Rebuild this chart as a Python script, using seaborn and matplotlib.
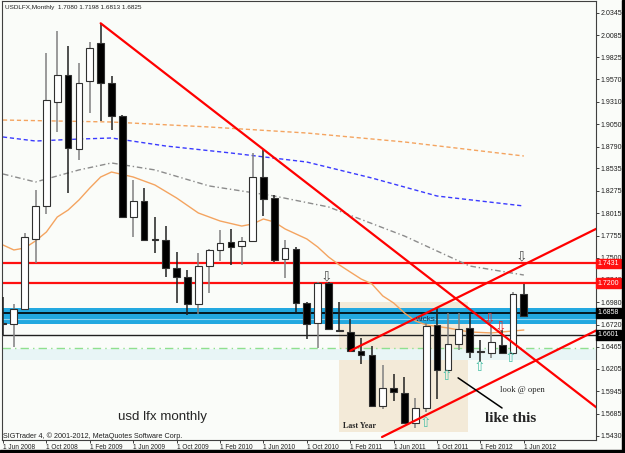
import numpy as np
import pandas as pd
import matplotlib
matplotlib.use('Agg')
import matplotlib.pyplot as plt
import seaborn as sns
from matplotlib.patches import Rectangle

# Monthly USDLFX bars, Jun 2008 .. Jun 2012 (bar index 0..48)
months = pd.date_range('2008-06-01', '2012-06-01', freq='MS')
opens = [1.6745, 1.6728, 1.6902, 1.7712, 1.8099, 1.9304, 1.9618, 1.8758, 1.9555, 1.9990,
         1.9525, 1.9145, 1.7968, 1.8154, 1.7715, 1.7704, 1.7382, 1.7277, 1.6957, 1.7402,
         1.7588, 1.7680, 1.7634, 1.7692, 1.8440, 1.8188, 1.7480, 1.7599, 1.6968, 1.6736,
         1.7201, 1.6658, 1.6638, 1.6417, 1.6367, 1.5775, 1.5981, 1.5930, 1.5581, 1.5748,
         1.6716, 1.6193, 1.6495, 1.6678, 1.6412, 1.6394, 1.6484, 1.6394, 1.7080]
highs = [1.7041, 1.6960, 1.7789, 1.8285, 1.9880, 2.0136, 1.9958, 1.9764, 2.0008, 2.0222,
         1.9610, 1.9160, 1.8401, 1.8305, 1.7975, 1.7866, 1.7568, 1.7355, 1.7556, 1.7595,
         1.7820, 1.7828, 1.7742, 1.8718, 1.8750, 1.8223, 1.7704, 1.7619, 1.6987, 1.7215,
         1.7215, 1.6987, 1.6790, 1.6562, 1.6472, 1.6251, 1.6147, 1.6116, 1.5864, 1.6736,
         1.6910, 1.6852, 1.6852, 1.6844, 1.6542, 1.6716, 1.6658, 1.7103, 1.7198]
lows = [1.6600, 1.6464, 1.6895, 1.7433, 1.8006, 1.8962, 1.8246, 1.8633, 1.9183, 1.9090,
        1.8982, 1.7956, 1.7742, 1.7700, 1.7556, 1.7277, 1.6968, 1.6832, 1.6844, 1.7092,
        1.7463, 1.7413, 1.7413, 1.7685, 1.7983, 1.7452, 1.7259, 1.6871, 1.6553, 1.6449,
        1.6655, 1.6635, 1.6410, 1.6263, 1.5767, 1.5737, 1.5837, 1.5565, 1.5519, 1.5705,
        1.5853, 1.6185, 1.6426, 1.6336, 1.6290, 1.6336, 1.6379, 1.6385, 1.6813]
closes = [1.6725, 1.6899, 1.7735, 1.8099, 1.9331, 1.9618, 1.8769, 1.9532, 1.9931, 1.9532,
          1.9145, 1.7968, 1.8161, 1.7704, 1.7705, 1.7382, 1.7270, 1.6957, 1.7402, 1.7588,
          1.7665, 1.7626, 1.7689, 1.8440, 1.8184, 1.7471, 1.7607, 1.6968, 1.6728, 1.7201,
          1.6666, 1.6646, 1.6417, 1.6367, 1.5775, 1.5981, 1.5941, 1.5574, 1.5748, 1.6708,
          1.6193, 1.6492, 1.6666, 1.6406, 1.6398, 1.6522, 1.6394, 1.7073, 1.6825]

# moving averages (bar index, value)
ma_long_idx = [0, 10, 19, 28, 37, 48]
ma_long = [1.9098, 1.9075, 1.9017, 1.8947, 1.8843, 1.8680]
ma_blue_idx = [0, 3, 7, 10, 15, 21, 28, 34, 40, 48]
ma_blue = [1.8901, 1.8854, 1.8877, 1.8889, 1.8796, 1.8715, 1.8610, 1.8424, 1.8215, 1.8099]
ma_gray_idx = [0, 3, 7, 10, 14, 19, 25, 30, 37, 43, 48]
ma_gray = [1.8471, 1.8378, 1.8518, 1.8599, 1.8518, 1.8332, 1.8215, 1.8088, 1.7750, 1.7402, 1.7297]
ma_fast_idx = [0, 1, 2, 3, 4, 5, 6, 7, 8, 9, 10, 12, 14, 16, 18, 20, 22, 23, 24, 25, 26, 27,
               28, 29, 30, 31, 32, 33, 34, 35, 36, 37, 38, 39, 41, 43, 45, 47, 48]
ma_fast = [1.7646, 1.7588, 1.7611, 1.7693, 1.7797, 1.7971, 1.8052, 1.8169, 1.8308, 1.8436,
           1.8494, 1.8436, 1.8343, 1.8192, 1.8018, 1.7925, 1.7866, 1.7890, 1.7948, 1.7913,
           1.7832, 1.7774, 1.7716, 1.7623, 1.7507, 1.7414, 1.7332, 1.7251, 1.7193, 1.7054,
           1.6972, 1.6856, 1.6763, 1.6717, 1.6682, 1.6635, 1.6624, 1.6647, 1.6658]

# horizontal levels
red_levels = [1.7431, 1.7200]
band_low, band_high = 1.6728, 1.6914
band_line = 1.6858
black_level = 1.6601
green_level = 1.6445

# trend lines: start bar, start price, end bar, end price
trend_lines = [(9, 2.0222, 56, 1.5630),
               (32, 1.6417, 56, 1.7917),
               (34.93, 1.5415, 56, 1.6736)]

ytick_vals = [2.0345, 2.0085, 1.9825, 1.9570, 1.9310, 1.9050, 1.8790, 1.8535, 1.8275, 1.8015,
              1.7755, 1.7500, 1.7240, 1.6980, 1.6720, 1.6465, 1.6205, 1.5945, 1.5685, 1.5430]

sns.set_style("white")
plt.rcParams['font.family'] = ['Liberation Sans', 'DejaVu Sans']

bg = '#fafcf9'
fig = plt.figure(figsize=(6.25, 4.53), dpi=100, facecolor=bg)
ax = fig.add_axes([2 / 625, 13 / 453, 594 / 625, 439 / 453], facecolor=bg)

idx = np.arange(len(months))
df = pd.DataFrame({'i': idx, 'o': opens, 'h': highs, 'l': lows, 'c': closes})

# "last year" box
ax.add_patch(Rectangle((30.97, 1.5473), 11.9, 0.1511, facecolor='#f3ead8', edgecolor='none', zorder=0))

# levels
ax.axhspan(1.6310, 1.6437, color='#e8f5f6', zorder=0.5, lw=0)
ax.axhspan(band_low, band_high, color='#22a8e0', zorder=1, lw=0)
ax.axhline(band_line, color='black', lw=1.2, zorder=1.2)
ax.axhline(1.6782, color='#8fd6f2', lw=0.8, zorder=1.2)
for lv in red_levels:
    ax.axhline(lv, color='#ff1010', lw=1.6, zorder=1.5)
ax.axhline(black_level, color='#202020', lw=1.0, zorder=1.5)
ax.axhline(green_level, color='#8fe08f', lw=1.0, ls=(0, (6, 3, 1, 3)), zorder=1.5)

# moving averages
sns.lineplot(x=ma_long_idx, y=ma_long, ax=ax, color='#f4a460', lw=1, ls=(0, (3, 2)), zorder=2)
sns.lineplot(x=ma_blue_idx, y=ma_blue, ax=ax, color='#3a3aff', lw=1, ls=(0, (3, 2)), zorder=2)
sns.lineplot(x=ma_gray_idx, y=ma_gray, ax=ax, color='#8c8c8c', lw=1, ls=(0, (4, 2, 1, 2)), zorder=2)
sns.lineplot(x=ma_fast_idx, y=ma_fast, ax=ax, color='#f4a460', lw=1, zorder=2)

# candles
w = 0.62
for _, r in df.iterrows():
    isup = r['c'] >= r['o']
    ax.vlines(r['i'], r['l'], r['h'], color='#808080' if isup else '#202020', lw=1.1, zorder=3)
    lo, hi = min(r['o'], r['c']), max(r['o'], r['c'])
    ax.add_patch(Rectangle((r['i'] - w / 2, lo), w, max(hi - lo, 0.0006),
                           facecolor='white' if isup else 'black',
                           edgecolor='#303030', lw=0.8, zorder=4))

# trend lines
for x0, y0, x1, y1 in trend_lines:
    ax.plot([x0, x1], [y0, y1], color='#ff0000', lw=1.6, zorder=5)
ax.plot([41.94, 45.99], [1.6102, 1.5752], color='black', lw=1.1, zorder=5)

# arrows
arrow_font = dict(family='DejaVu Sans', fontsize=10, ha='center', va='center', zorder=6)
ax.text(29.8, 1.7286, '\u21e9', color='#505050', **arrow_font)
ax.text(47.8, 1.7510, '\u21e9', color='#505050', **arrow_font)
ax.text(44.8, 1.6797, '\u21e9', color='#e03030', **arrow_font)
ax.text(45.8, 1.6696, '\u21e9', color='#e03030', **arrow_font)
for xi, yi in [(38.9, 1.5577), (40.9, 1.6124), (43.9, 1.6229), (46.8, 1.6333)]:
    ax.text(xi, yi, '\u21e7', color='#4cc0a8', **arrow_font)

# annotations
ax.text(31.3, 1.5548, 'Last Year', family='Liberation Serif', fontweight='bold', fontsize=5.8,
        va='center', zorder=6)
ax.text(37.97, 1.6780, 'wicks', fontsize=5.9, color='#1d3550', va='center', zorder=6)
ax.text(45.8, 1.5964, 'look @ open', family='Liberation Serif', fontsize=6.2, va='center', zorder=6)
ax.text(44.4, 1.5635, 'like this', family='Liberation Serif', fontweight='bold', fontsize=11,
        va='center', zorder=6)
ax.text(10.6, 1.5647, 'usd lfx monthly', fontsize=9.6, va='center', zorder=6)

ax.set_xlim(-0.092, 54.65)
ax.set_ylim(1.5380, 2.0481)

# axes
ax.yaxis.tick_right()
ax.set_yticks(ytick_vals)
ax.set_yticklabels([f'{v:.4f}' for v in ytick_vals])
ax.tick_params(axis='y', right=True, length=2, width=0.6, pad=1.5, labelsize=5, colors='#202020')
xt = list(range(0, len(months), 4))
ax.set_xticks(xt)
ax.set_xticklabels([f'1 {months[i]:%b %Y}' for i in xt], ha='left')
ax.tick_params(axis='x', bottom=True, length=2, width=0.6, pad=1, labelsize=4.7, colors='#202020')
for s in ax.spines.values():
    s.set_color('#404040')
    s.set_linewidth(0.8)

# price tags on the right scale
tr = ax.get_yaxis_transform()
for val, col in [(1.7431, '#ff1010'), (1.7200, '#ff1010'), (1.6858, 'black'), (1.6601, 'black')]:
    ax.text(1.003, val, f'{val:.4f}', transform=tr, fontsize=5, color='white', va='center',
            ha='left', clip_on=False, zorder=10,
            bbox=dict(boxstyle='square,pad=0.2', fc=col, ec=col))

fig.text(5 / 625, 1 - 7 / 453, 'USDLFX,Monthly  1.7080 1.7198 1.6813 1.6825', fontsize=4.6,
         va='center', color='#202020')
fig.text(3 / 625, 1 - 436 / 453, 'SIGTrader 4, \u00a9 2001-2012, MetaQuotes Software Corp.',
         fontsize=5.2, va='center', color='#202020')

# window frame
fig.patches.append(Rectangle((0, 0), 1, 3 / 453, transform=fig.transFigure, color='black'))
fig.patches.append(Rectangle((622 / 625, 0), 3 / 625, 1, transform=fig.transFigure, color='black'))

fig.savefig('out.png', dpi=100, facecolor=bg)
